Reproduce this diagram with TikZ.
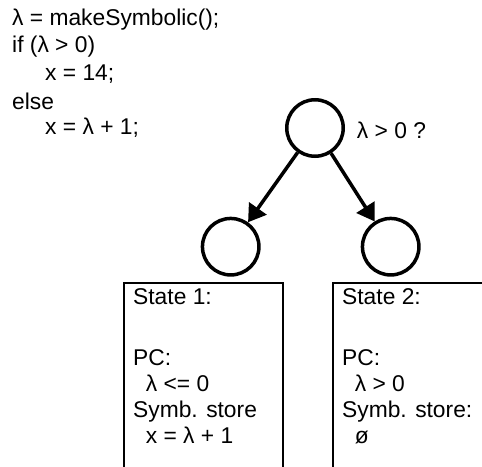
\documentclass[tikz,border=0pt]{standalone}
\usepackage{fontspec}
\setmainfont{Liberation Sans}
\usetikzlibrary{arrows.meta}
\begin{document}
\begin{tikzpicture}[x=1pt,y=-1pt,
  every node/.style={font=\fontsize{22.8}{26.9}\selectfont},
  codeline/.style={anchor=west, inner sep=0pt},
  treenode/.style={circle, draw, line width=3.5pt, minimum size=56.5pt, inner sep=0pt},
  branch/.style={line width=3.5pt, -{Triangle[length=17pt,width=21pt]}},
  statebox/.style={draw, line width=1.8pt, rectangle, anchor=north west, minimum width=159pt, minimum height=220pt, inner sep=0pt},
  statetext/.style={anchor=north west, align=left, inner sep=0pt, font=\fontsize{22.8}{25.8}\selectfont}
]
\useasboundingbox (0,0) rectangle (482,466);
\clip (0,0) rectangle (482,466);
% code
\node[codeline] (c1) at (12,20) {λ = makeSymbolic();};
\node[codeline] (c2) at (12,47) {if (λ > 0)};
\node[codeline] (c3) at (45,74) {x = 14;};
\node[codeline] (c4) at (12,101) {else};
\node[codeline] (c5) at (45,128) {x = λ + 1;};
% tree
\node[treenode] (root) at (315,128) {};
\node[treenode] (left) at (230.7,246.7) {};
\node[treenode] (right) at (390.7,246.7) {};
\node[anchor=west, inner sep=0pt] (cond) at (356.7,130) {λ > 0 ?};
\draw[branch] (root) -- (left);
\draw[branch] (root) -- (right);
% states
\node[statebox] (s1) at (122.7,281.7) {};
\node[statebox] (s2) at (331.7,281.7) {};
\node[statetext] (t1) at (133,288) {State 1:\\[10pt]\\PC:\\\ \ λ <= 0\\Symb. store\\\ \ x = λ + 1};
\node[statetext] (t2) at (342,288) {State 2:\\[10pt]\\PC:\\\ \ λ > 0\\Symb. store:\\\ \ ø};
\end{tikzpicture}
\end{document}
